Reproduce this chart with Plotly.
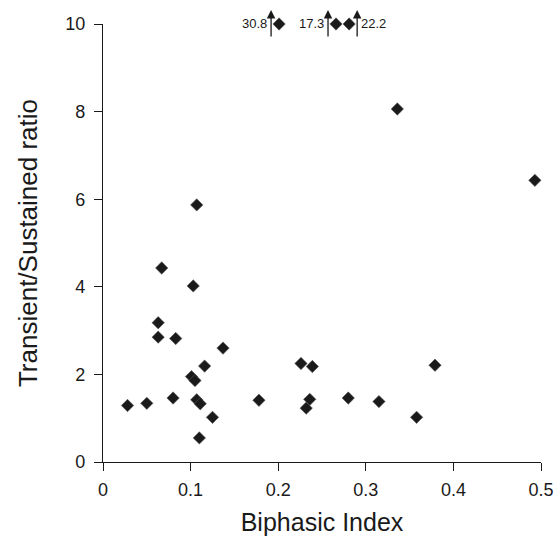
import plotly.graph_objects as go

# Data
biphasic_index = [0.028, 0.050, 0.063, 0.063, 0.083, 0.137, 0.116, 0.101, 0.105, 0.080,
                  0.107, 0.111, 0.178, 0.125, 0.110, 0.107, 0.067, 0.103, 0.226, 0.239,
                  0.236, 0.232, 0.280, 0.315, 0.379, 0.358, 0.336, 0.493]
ts_ratio = [1.29, 1.34, 3.18, 2.85, 2.82, 2.60, 2.19, 1.95, 1.86, 1.46,
            1.42, 1.33, 1.41, 1.02, 0.55, 5.87, 4.43, 4.02, 2.25, 2.18,
            1.43, 1.23, 1.46, 1.38, 2.21, 1.02, 8.06, 6.43]

# Off-scale points (plotted at axis top with arrow + value label)
off_bi = [0.201, 0.266, 0.281]
off_ratio = [30.8, 17.3, 22.2]
off_side = ["left", "left", "right"]

y_max = 10
x_ticks = [0, 0.1, 0.2, 0.3, 0.4, 0.5]
x_ticklabels = ["0", "0.1", "0.2", "0.3", "0.4", "0.5"]
y_ticks = [0, 2, 4, 6, 8, 10]

FONT = "Liberation Sans, Arial, sans-serif"
ink = "#1a1a1a"

fig = go.Figure()
fig.add_trace(go.Scatter(
    x=biphasic_index + off_bi,
    y=ts_ratio + [min(v, y_max) for v in off_ratio],
    mode="markers",
    marker=dict(symbol="diamond", size=9.5, color=ink,
                line=dict(color="#555555", width=0.6)),
    cliponaxis=False,
    showlegend=False,
))

for xv, val, side in zip(off_bi, off_ratio, off_side):
    sgn = -1 if side == "left" else 1
    fig.add_annotation(x=xv, y=y_max, xref="x", yref="y", text="",
                       showarrow=True, ax=0, ay=28, xshift=sgn * 8, yshift=14,
                       arrowhead=2, arrowsize=1.3, arrowwidth=1.3, arrowcolor=ink)
    fig.add_annotation(x=xv, y=y_max, xref="x", yref="y", text=f"{val}",
                       showarrow=False, xanchor="right" if side == "left" else "left",
                       xshift=sgn * 10, yshift=1,
                       font=dict(family=FONT, size=13, color=ink))

axis_common = dict(showline=True, linecolor=ink, linewidth=1.2, ticks="outside",
                   ticklen=8, tickwidth=1.2, tickcolor=ink, showgrid=False,
                   zeroline=False, tickfont=dict(family=FONT, size=18, color=ink),
                   mirror=False, automargin=False, ticklabeloverflow="allow")

fig.update_layout(
    width=553, height=536,
    margin=dict(l=103, r=12, t=24, b=74),
    plot_bgcolor="white", paper_bgcolor="white",
    xaxis=dict(range=[0, 0.5], tickvals=x_ticks, ticktext=x_ticklabels,
               ticklabelstandoff=3,
               title=dict(text="Biphasic Index", standoff=20,
                          font=dict(family=FONT, size=25, color=ink)),
               **axis_common),
    yaxis=dict(range=[0, y_max], tickvals=y_ticks, ticklabelstandoff=5,
               title=dict(text="Transient/Sustained ratio", standoff=20,
                          font=dict(family=FONT, size=26, color=ink)),
               **axis_common),
)

fig.write_html("out.html", config={"displayModeBar": False},
               post_script="document.body.style.margin='0';")
